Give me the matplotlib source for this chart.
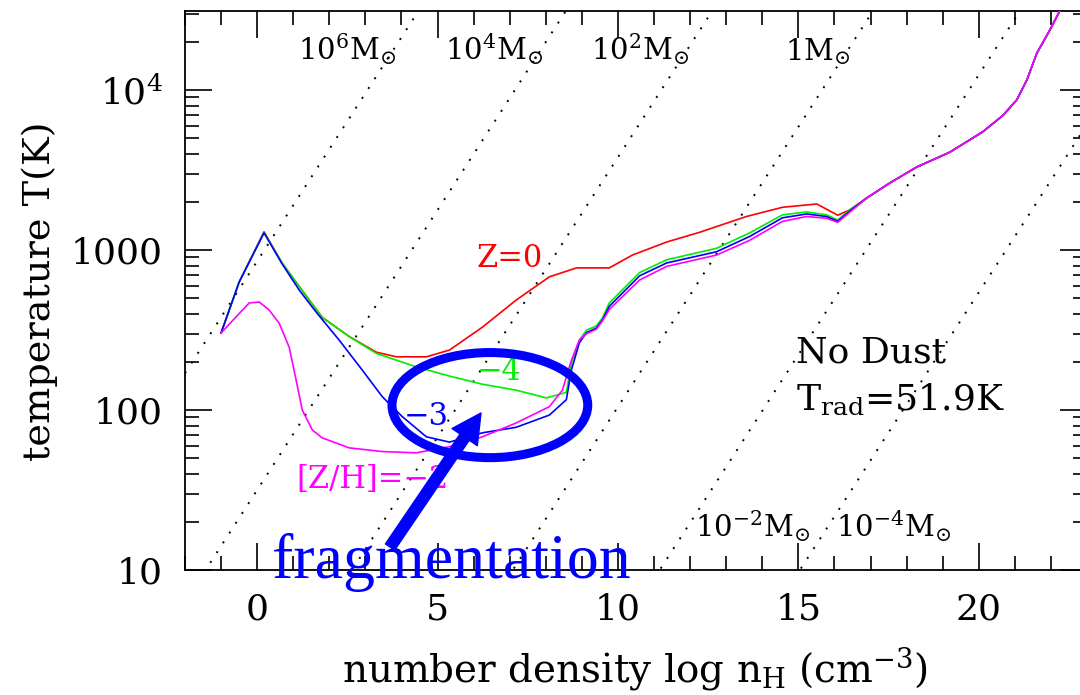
import numpy as np
import matplotlib.pyplot as plt
from matplotlib.patches import Ellipse, FancyArrowPatch
from matplotlib.ticker import FixedLocator, FixedFormatter, MultipleLocator, LogLocator, NullFormatter

plt.rcParams['font.family'] = 'DejaVu Serif'
plt.rcParams['mathtext.fontset'] = 'dejavuserif'

# high density part where all the tracks fall on top of each other
tail_logn = [16.89, 17.53, 18.28, 19.20, 20.11, 20.67, 21.05, 21.33, 21.61, 21.97, 22.30]
tail_T = [2110, 2620, 3300, 4090, 5480, 6940, 8660, 11500, 17000, 23700, 33000]

# Z = 0
logn_z0 = [-1.0, -0.5, 0.19, 0.69, 1.17, 1.80, 2.55, 3.30, 3.86, 4.69, 5.33, 6.24, 7.18,
           8.10, 8.85, 9.76, 10.40, 11.35, 12.26, 13.56, 14.56, 15.51, 16.09, 16.42]
T_z0 = [303, 630, 1300, 830, 590, 380, 288, 230, 215, 215, 237, 329, 487,
        680, 773, 773, 930, 1122, 1290, 1620, 1850, 1940, 1650, 1780]

# [Z/H] = -4
logn_m4 = [-1.0, -0.5, 0.19, 0.69, 1.17, 1.80, 2.55, 3.30, 4.41, 5.33, 6.24, 7.18, 8.02,
           8.57, 8.71, 8.93, 9.13, 9.40, 9.57, 9.76, 10.60, 11.35, 12.73, 13.65, 14.56,
           15.23, 15.78, 16.09, 16.42]
T_m4 = [303, 630, 1290, 830, 590, 380, 288, 226, 186, 163, 145, 133, 119,
        129, 196, 274, 316, 335, 376, 467, 723, 869, 1025, 1280, 1660,
        1730, 1660, 1540, 1780]

# [Z/H] = -3
logn_m3 = [-1.0, -0.5, 0.19, 0.69, 1.17, 1.64, 2.27, 2.91, 3.47, 4.02, 4.69, 5.33, 6.24,
           7.18, 8.10, 8.57, 8.71, 8.93, 9.13, 9.40, 9.57, 9.76, 10.60, 11.35, 12.73,
           13.65, 14.56, 15.23, 15.78, 16.09, 16.42]
T_m3 = [303, 630, 1280, 820, 560, 408, 274, 178, 121, 91, 68, 63, 72,
        78, 93, 116, 178, 263, 305, 325, 365, 445, 690, 830, 975,
        1215, 1590, 1680, 1620, 1510, 1750]

# [Z/H] = -2
logn_m2 = [-1.0, -0.58, -0.22, 0.06, 0.33, 0.61, 0.89, 1.08, 1.25, 1.53, 1.80, 2.55,
           3.47, 4.41, 5.33, 6.24, 7.18, 8.10, 8.46, 8.71, 8.93, 9.13, 9.40, 9.57,
           9.76, 10.60, 11.35, 12.73, 13.65, 14.56, 15.23, 15.78, 16.09, 16.42]
T_m2 = [303, 383, 467, 473, 422, 349, 246, 154, 100, 75, 67, 58,
        55, 54, 59, 68, 83, 105, 133, 205, 274, 300, 320, 360,
        425, 650, 790, 930, 1150, 1510, 1620, 1580, 1490, 1720]

# constant mass lines: log T = slope * log n + logT0
jeans_exp = [6, 4, 2, 0, -2, -4]
jeans_logT0 = [2.93, 1.50, 0.08, -1.48, -2.905, -4.265]
jeans_slope = 0.35

fig = plt.figure(figsize=(10.8, 6.95), dpi=100)
ax = fig.add_axes([185 / 1080, 125 / 695, 902 / 1080, 559 / 695])
ax.set_xlim(-2, 23)
ax.set_ylim(10, 10 ** 4.494)
ax.set_yscale('log')

xx = np.array([-2.0, 23.0])
for k, c in zip(jeans_exp, jeans_logT0):
    ax.plot(xx, 10 ** (jeans_slope * xx + c), color='black', lw=1.4,
            linestyle=(0, (1, 5)), zorder=1)
    if k > 0:
        lab = r'$10^{%d}\mathrm{M}_{\odot}$' % k
    elif k == 0:
        lab = r'$1\mathrm{M}_{\odot}$'
    else:
        lab = r'$10^{-%d}\mathrm{M}_{\odot}$' % (-k)
    if k >= 0:
        lt = 4.1875
        ax.text((lt - c) / jeans_slope + 0.25, 10 ** lt, lab, fontsize=21,
                ha='right', va='baseline')
    else:
        lt = 1.206
        ax.text((lt - c) / jeans_slope + 0.4, 10 ** lt, lab, fontsize=21,
                ha='left', va='baseline')

ax.plot(logn_z0 + tail_logn, T_z0 + tail_T, color='red', lw=1.2, zorder=3)
ax.plot(logn_m4 + tail_logn, T_m4 + tail_T, color='#00ee00', lw=1.2, zorder=3)
ax.plot(logn_m3 + tail_logn, T_m3 + tail_T, color='blue', lw=1.2, zorder=3)
ax.plot(logn_m2 + tail_logn, T_m2 + tail_T, color='magenta', lw=1.2, zorder=3)

ax.text(6.07, 783, 'Z=0', color='red', fontsize=22, va='baseline')
ax.text(6.10, 155, '\u22124', color='#00ee00', fontsize=22, va='baseline')
ax.text(4.07, 80.6, '\u22123', color='blue', fontsize=22, va='baseline')
ax.text(1.08, 32.5, '[Z/H]=\u22122', color='magenta', fontsize=22, va='baseline')
ax.text(14.94, 197, 'No Dust', fontsize=26, va='baseline')
ax.text(14.94, 100, r'T$_{\mathrm{rad}}$=51.9K', fontsize=26, va='baseline')

# axes, ticks on all sides pointing in
ax.xaxis.set_major_locator(FixedLocator([0, 5, 10, 15, 20]))
ax.xaxis.set_minor_locator(MultipleLocator(1))
ax.yaxis.set_major_locator(FixedLocator([10, 100, 1000, 10000]))
ax.yaxis.set_major_formatter(FixedFormatter(['10', '100', '1000', r'$10^4$']))
ax.yaxis.set_minor_locator(LogLocator(base=10, subs=np.arange(2, 10)))
ax.yaxis.set_minor_formatter(NullFormatter())
ax.tick_params(which='both', direction='in', top=True, right=True, width=1.2,
               labelsize=26, pad=16)
ax.tick_params(which='major', length=19.5)
ax.tick_params(which='minor', length=10)
for s in ax.spines.values():
    s.set_linewidth(1.3)

fig.text(40 / 1080, 404 / 695, 'temperature T(K)', rotation=90, fontsize=27.5,
         ha='center', va='center')
fig.text(635 / 1080, 27 / 695, r'number density log n$_\mathrm{H}$ (cm$^{-3}$)',
         fontsize=28, ha='center', va='center')

# fragmentation marker
ell = Ellipse((0.338, 0.295), 0.217, 0.188, transform=ax.transAxes, fill=False,
              edgecolor='blue', lw=6.5, zorder=6, clip_on=False)
ax.add_patch(ell)
arr = FancyArrowPatch((0.2273, 0.0411), (0.3282, 0.2809), transform=ax.transAxes,
                      arrowstyle='simple,head_length=21,head_width=22,tail_width=8',
                      color='blue', shrinkA=0, shrinkB=0, mutation_scale=1,
                      zorder=6, clip_on=False)
ax.add_patch(arr)
ax.text(0.0965, -0.0143, 'fragmentation', transform=ax.transAxes, color='blue',
        fontsize=46, family='Liberation Serif', va='baseline', zorder=7,
        clip_on=False)

fig.savefig('out.png', dpi=100)
